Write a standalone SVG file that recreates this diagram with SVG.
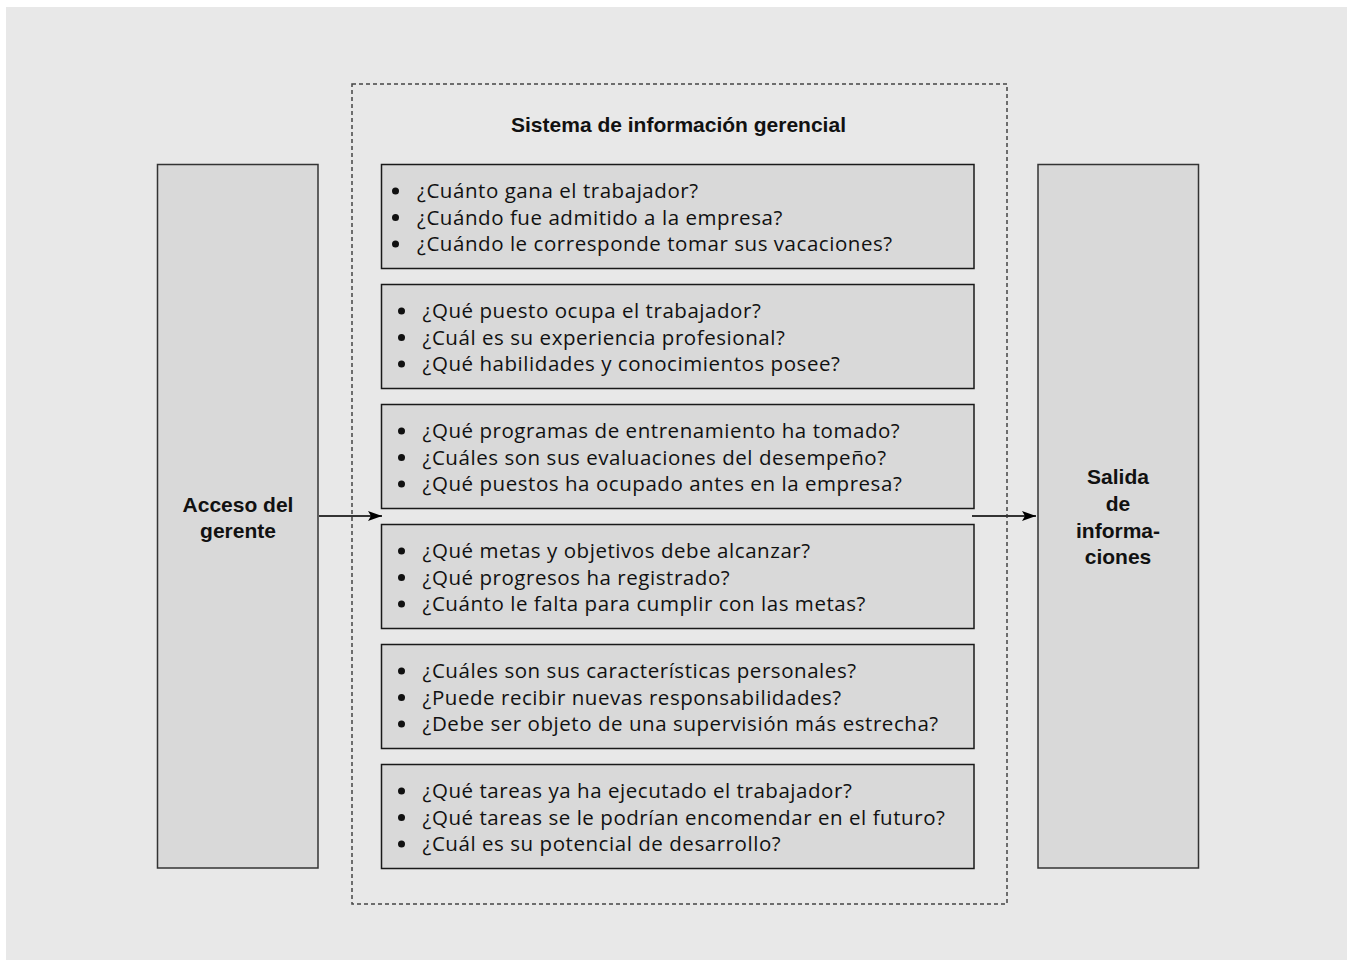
<svg xmlns="http://www.w3.org/2000/svg" width="1347" height="960" viewBox="0 0 1347 960">
<style>
.bg{fill:#e8e8e8}
.box{fill:#d9d9d9;stroke:#1a1a1a;stroke-width:1.5}
.side{fill:#d9d9d9;stroke:#333;stroke-width:1.5}
.dash{fill:none;stroke:#444;stroke-width:1.5;stroke-dasharray:4 3}
.t{font-family:"Open Sans","Noto Sans",sans-serif;font-size:20.5px;letter-spacing:0.55px;fill:#111}
.b{font-family:"Liberation Sans",Arial,sans-serif;font-weight:bold;font-size:21px;fill:#111;text-anchor:middle}
.conn{stroke:#333;stroke-width:2;fill:none}
</style>
<defs>
<marker id="ah" markerWidth="14" markerHeight="10" refX="14" refY="5" orient="auto" markerUnits="userSpaceOnUse">
<path d="M0,0 L14,5 L0,10 L3,5 Z" fill="#000"/>
</marker>
</defs>
<rect class="bg" x="6" y="7" width="1341" height="953"/>
<g id="sistema">
<rect class="dash" x="352" y="84" width="655" height="820"/>
<text class="b" x="678.5" y="132">Sistema de información gerencial</text>
</g>
<g id="acceso">
<rect class="side" x="157.5" y="164.5" width="160.5" height="703.5"/>
<text class="b" x="238" y="511.5">Acceso del</text>
<text class="b" x="238" y="538">gerente</text>
</g>
<g id="salida">
<rect class="side" x="1038" y="164.5" width="160.5" height="703.5"/>
<text class="b" x="1118" y="484">Salida</text>
<text class="b" x="1118" y="511">de</text>
<text class="b" x="1118" y="537.5">informa-</text>
<text class="b" x="1118" y="564">ciones</text>
</g>
<g id="box1">
<rect class="box" x="381.5" y="164.5" width="592.5" height="104"/>
<circle cx="395.5" cy="191" r="3.5" fill="#111"/><circle cx="395.5" cy="217.5" r="3.5" fill="#111"/><circle cx="395.5" cy="244" r="3.5" fill="#111"/>
<text class="t" x="417" y="198">¿Cuánto gana el trabajador?</text>
<text class="t" x="417" y="224.5">¿Cuándo fue admitido a la empresa?</text>
<text class="t" x="417" y="251">¿Cuándo le corresponde tomar sus vacaciones?</text>
</g>
<g id="box2">
<rect class="box" x="381.5" y="284.5" width="592.5" height="104"/>
<circle cx="401.5" cy="311" r="3.5" fill="#111"/><circle cx="401.5" cy="337.5" r="3.5" fill="#111"/><circle cx="401.5" cy="364" r="3.5" fill="#111"/>
<text class="t" x="422.5" y="318">¿Qué puesto ocupa el trabajador?</text>
<text class="t" x="422.5" y="344.5">¿Cuál es su experiencia profesional?</text>
<text class="t" x="422.5" y="371">¿Qué habilidades y conocimientos posee?</text>
</g>
<g id="box3">
<rect class="box" x="381.5" y="404.5" width="592.5" height="104"/>
<circle cx="401.5" cy="431" r="3.5" fill="#111"/><circle cx="401.5" cy="457.5" r="3.5" fill="#111"/><circle cx="401.5" cy="484" r="3.5" fill="#111"/>
<text class="t" x="422.5" y="438">¿Qué programas de entrenamiento ha tomado?</text>
<text class="t" x="422.5" y="464.5">¿Cuáles son sus evaluaciones del desempeño?</text>
<text class="t" x="422.5" y="491">¿Qué puestos ha ocupado antes en la empresa?</text>
</g>
<g id="box4">
<rect class="box" x="381.5" y="524.5" width="592.5" height="104"/>
<circle cx="401.5" cy="551" r="3.5" fill="#111"/><circle cx="401.5" cy="577.5" r="3.5" fill="#111"/><circle cx="401.5" cy="604" r="3.5" fill="#111"/>
<text class="t" x="422.5" y="558">¿Qué metas y objetivos debe alcanzar?</text>
<text class="t" x="422.5" y="584.5">¿Qué progresos ha registrado?</text>
<text class="t" x="422.5" y="611">¿Cuánto le falta para cumplir con las metas?</text>
</g>
<g id="box5">
<rect class="box" x="381.5" y="644.5" width="592.5" height="104"/>
<circle cx="401.5" cy="671" r="3.5" fill="#111"/><circle cx="401.5" cy="697.5" r="3.5" fill="#111"/><circle cx="401.5" cy="724" r="3.5" fill="#111"/>
<text class="t" x="422.5" y="678">¿Cuáles son sus características personales?</text>
<text class="t" x="422.5" y="704.5">¿Puede recibir nuevas responsabilidades?</text>
<text class="t" x="422.5" y="731">¿Debe ser objeto de una supervisión más estrecha?</text>
</g>
<g id="box6">
<rect class="box" x="381.5" y="764.5" width="592.5" height="104"/>
<circle cx="401.5" cy="791" r="3.5" fill="#111"/><circle cx="401.5" cy="817.5" r="3.5" fill="#111"/><circle cx="401.5" cy="844" r="3.5" fill="#111"/>
<text class="t" x="422.5" y="798">¿Qué tareas ya ha ejecutado el trabajador?</text>
<text class="t" x="422.5" y="824.5">¿Qué tareas se le podrían encomendar en el futuro?</text>
<text class="t" x="422.5" y="851">¿Cuál es su potencial de desarrollo?</text>
</g>
<g id="connectors">
<line class="conn" x1="319" y1="516" x2="382" y2="516" marker-end="url(#ah)"/>
<line class="conn" x1="972" y1="516" x2="1036" y2="516" marker-end="url(#ah)"/>
</g>
</svg>
